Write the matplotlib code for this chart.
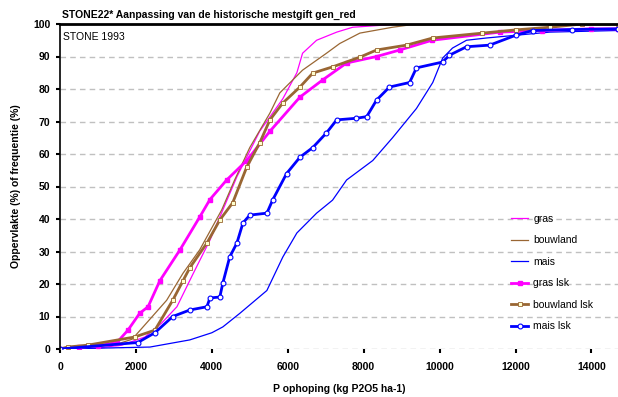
import numpy as np
import matplotlib
matplotlib.use("Agg")
import matplotlib.pyplot as plt

plt.rcParams['font.family'] = ['Liberation Sans', 'DejaVu Sans']

# P ophoping (kg P2O5/ha) tegen oppervlakte (%)
gras_x = [0, 1000, 1630, 2240, 2680, 3080, 3500, 3950, 4290, 4660, 5260, 5870, 6240, 6390, 6760, 7290, 7710, 8950, 14700]
gras_y = [0, 0.3, 1.2, 3.7, 8, 13, 23, 33.5, 42.8, 53, 67, 77, 85, 91, 95, 97.5, 99, 100, 100]

bouwland_x = [0, 500, 1500, 1900, 2280, 2810, 3240, 3680, 4260, 4600, 5000, 5530, 5790, 6390, 7020, 7370, 7900, 8760, 9200, 11300, 14700]
bouwland_y = [0, 0.3, 1.5, 3, 8, 15, 23.3, 30.5, 42.8, 52, 62, 72.6, 78.8, 85.8, 91, 94, 97.2, 99, 99.7, 100, 100]

mais_x = [0, 2370, 3420, 4000, 4290, 4740, 5450, 5870, 6240, 6760, 7180, 7550, 8240, 8760, 9390, 9820, 10080, 10340, 10710, 11240, 12900, 14700]
mais_y = [0, 0.6, 2.8, 5, 6.8, 11, 18, 28.3, 35.7, 41.8, 45.8, 52, 58, 65, 74, 82, 89.5, 92.6, 95, 95.7, 97.5, 98]

gras_lsk_x = [0, 500, 1000, 1500, 1790, 2100, 2320, 2630, 3160, 3680, 3950, 4390, 4920, 5530, 6320, 6920, 7550, 8340, 8950, 9800, 11580, 12700, 14000, 14700]
gras_lsk_y = [0, 0.5, 1, 2, 5.8, 11, 13, 21, 30.5, 40.6, 46, 52, 58, 67, 77.5, 82.8, 88, 90, 92, 95, 97.5, 98, 98.5, 98.5]

bouwland_lsk_x = [0, 200, 740, 1970, 2500, 2970, 3240, 3420, 3870, 4210, 4550, 4920, 5260, 5530, 5870, 6320, 6660, 7180, 7900, 8340, 9130, 9820, 11130, 12020, 12900, 13760, 14700]
bouwland_lsk_y = [0, 0.6, 1.2, 3.7, 5.8, 15, 21, 25, 32.6, 39.7, 45, 56, 63.4, 70.5, 75.7, 80.6, 84.9, 86.8, 89.8, 92, 93.5, 95.7, 97.2, 98.2, 99, 100, 100]

mais_lsk_x = [0, 2050, 2500, 2970, 3420, 3870, 3950, 4210, 4290, 4470, 4660, 4820, 5000, 5450, 5600, 5970, 6320, 6660, 7020, 7290, 7810, 8080, 8340, 8680, 9210, 9390, 10080, 10260, 10710, 11320, 12020, 12450, 13500, 14700]
mais_lsk_y = [0, 2, 5, 10, 12, 13, 15.7, 16, 20.3, 28.3, 32.6, 38.8, 41.2, 41.8, 45.8, 54, 59, 62, 66.5, 70.5, 71, 71.5, 76.6, 80.6, 82, 86.5, 88.3, 90.4, 93, 93.5, 96.6, 98, 98.3, 98.5]

xticks = [0, 2000, 4000, 6000, 8000, 10000, 12000, 14000]
yticks = [0, 10, 20, 30, 40, 50, 60, 70, 80, 90, 100]

MAGENTA = "#ff00ff"
BRUIN = "#996633"
BLAUW = "#0000ff"

fig = plt.figure(figsize=(6.18, 3.97), dpi=100)
ax = fig.add_axes([60/618, 1 - 349/397, 1 - 60/618, (349 - 24)/397])

ax.plot(gras_x, gras_y, color=MAGENTA, lw=0.9, label="gras")
ax.plot(bouwland_x, bouwland_y, color=BRUIN, lw=0.9, label="bouwland")
ax.plot(mais_x, mais_y, color=BLAUW, lw=0.9, label="mais")
ax.plot(gras_lsk_x, gras_lsk_y, color=MAGENTA, lw=2, marker="s", ms=2.5, label="gras lsk")
ax.plot(bouwland_lsk_x, bouwland_lsk_y, color=BRUIN, lw=2, marker="s", ms=3,
        mfc="#ffffcc", mec=BRUIN, mew=0.6, label="bouwland lsk")
ax.plot(mais_lsk_x, mais_lsk_y, color=BLAUW, lw=2, marker="o", ms=3.5,
        mfc="white", mec=BLAUW, mew=0.8, label="mais lsk")

ax.set_xlim(0, 14700)
ax.set_ylim(0, 100)
ax.set_xticks(xticks)
ax.set_yticks(yticks)
ax.yaxis.grid(True, color="#c0c0c0", ls=(0, (4, 3)), lw=1)
ax.set_axisbelow(True)

for s in ["right", "bottom"]:
    ax.spines[s].set_visible(False)
ax.spines["top"].set_linewidth(2)
ax.spines["left"].set_linewidth(1.2)
ax.tick_params(axis="both", direction="out", length=3, width=1.5, labelsize=7.5)
ax.tick_params(axis="x", pad=6)
ax.tick_params(axis="y", pad=4)
for lbl in ax.get_xticklabels() + ax.get_yticklabels():
    lbl.set_fontweight("bold")

ax.set_xlabel("P ophoping (kg P2O5 ha-1)", fontsize=7.5, fontweight="bold", labelpad=9)
ax.set_ylabel("Oppervlakte (%) of frequentie (%)", fontsize=7.5, fontweight="bold", labelpad=9)

fig.text(62/618, 1 - 15/397, "STONE22* Aanpassing van de historische mestgift gen_red",
         fontsize=7.5, fontweight="bold", va="center", ha="left")
ax.text(0.005, 0.975, "STONE 1993", transform=ax.transAxes, fontsize=7.5, va="top", ha="left")

leg = ax.legend(loc="lower left", bbox_to_anchor=(0.792, 0.026), frameon=False,
                fontsize=7.5, handlelength=1.6, labelspacing=1.1, handletextpad=0.5)

fig.savefig("out.png", dpi=100)
